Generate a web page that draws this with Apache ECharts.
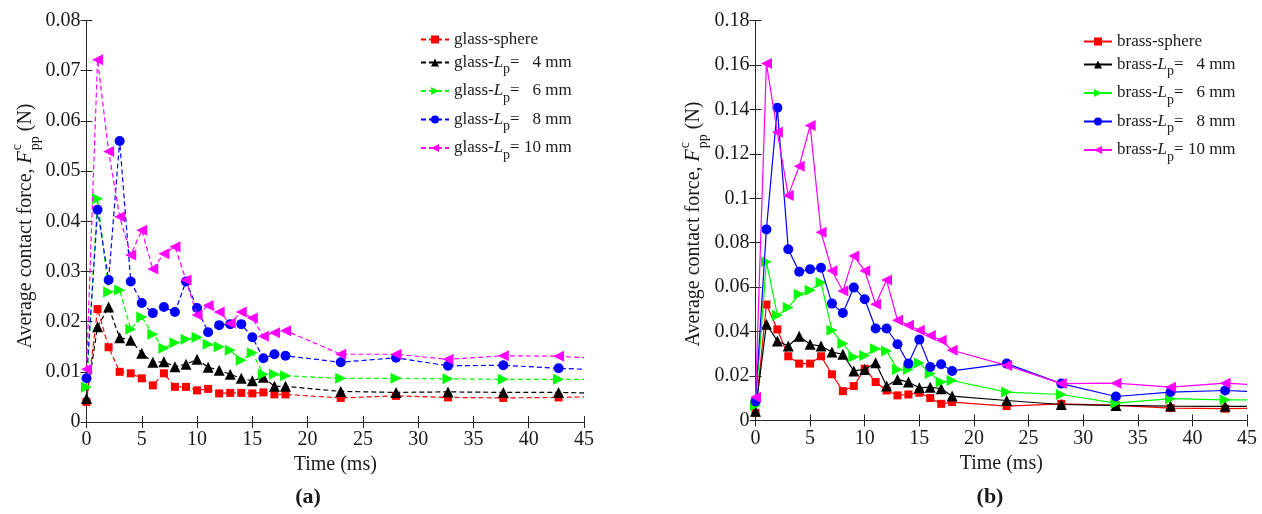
<!DOCTYPE html>
<html>
<head>
<meta charset="utf-8">
<script src="https://cdn.jsdelivr.net/npm/echarts@6/dist/echarts.min.js"></script>
<style>
html,body{margin:0;padding:0;background:#fff;}
#chart{width:1262px;height:514px;}
</style>
</head>
<body>
<div id="chart"></div>
<script>
// ---------- data ----------
const timeA = [0,1,2,3,4,5,6,7,8,9,10,11,12,13,14,15,16,17,18,23,28,32.7,37.7,42.7,45];
const timeB = [0,1,2,3,4,5,6,7,8,9,10,11,12,13,14,15,16,17,18,23,28,33,38,43,45];

const namesA = ['glass-sphere','glass-Lp = 4 mm','glass-Lp = 6 mm','glass-Lp = 8 mm','glass-Lp = 10 mm'];
const namesB = ['brass-sphere','brass-Lp = 4 mm','brass-Lp = 6 mm','brass-Lp = 8 mm','brass-Lp = 10 mm'];

const glassSphere = [0.0040,0.0225,0.0149,0.0100,0.0097,0.0087,0.0073,0.0097,0.0070,0.0070,0.0063,0.0066,0.0057,0.0058,0.0058,0.0057,0.0059,0.0055,0.0055,0.0048,0.0052,0.0049,0.0048,0.0049,0.0050];
const glassLp4   = [0.0047,0.0190,0.0229,0.0168,0.0163,0.0137,0.0119,0.0120,0.0110,0.0115,0.0125,0.0109,0.0103,0.0095,0.0087,0.0082,0.0089,0.0071,0.0071,0.0061,0.0059,0.0060,0.0059,0.0059,0.0058];
const glassLp6   = [0.0069,0.0445,0.0259,0.0263,0.0185,0.0209,0.0175,0.0147,0.0158,0.0165,0.0169,0.0155,0.0150,0.0143,0.0123,0.0138,0.0095,0.0095,0.0092,0.0087,0.0087,0.0086,0.0085,0.0085,0.0085];
const glassLp8   = [0.0087,0.0423,0.0283,0.0560,0.0280,0.0237,0.0217,0.0229,0.0219,0.0280,0.0227,0.0179,0.0193,0.0195,0.0195,0.0169,0.0127,0.0135,0.0132,0.0119,0.0128,0.0112,0.0113,0.0107,0.0105];
const glassLp10  = [0.0105,0.0722,0.0539,0.0409,0.0333,0.0382,0.0305,0.0335,0.0349,0.0283,0.0213,0.0232,0.0219,0.0197,0.0219,0.0207,0.0171,0.0178,0.0182,0.0135,0.0135,0.0125,0.0132,0.0131,0.0128];

const brassSphere = [0.0035,0.0522,0.0410,0.0289,0.0256,0.0256,0.0289,0.0208,0.0132,0.0155,0.0233,0.0173,0.0135,0.0113,0.0117,0.0125,0.0101,0.0075,0.0083,0.0065,0.0075,0.0068,0.0056,0.0053,0.0055];
const brassLp4   = [0.0042,0.0433,0.0358,0.0335,0.0379,0.0343,0.0335,0.0308,0.0298,0.0223,0.0230,0.0260,0.0155,0.0185,0.0173,0.0147,0.0150,0.0143,0.0110,0.0090,0.0072,0.0068,0.0065,0.0064,0.0064];
const brassLp6   = [0.0068,0.0714,0.0474,0.0508,0.0568,0.0586,0.0621,0.0406,0.0346,0.0286,0.0293,0.0323,0.0313,0.0229,0.0229,0.0259,0.0211,0.0173,0.0180,0.0128,0.0117,0.0078,0.0098,0.0093,0.0093];
const brassLp8   = [0.0086,0.0860,0.1407,0.0771,0.0669,0.0681,0.0687,0.0526,0.0484,0.0598,0.0546,0.0414,0.0414,0.0343,0.0256,0.0364,0.0241,0.0253,0.0223,0.0256,0.0166,0.0108,0.0128,0.0135,0.0131];
const brassLp10  = [0.0105,0.1606,0.1297,0.1013,0.1144,0.1327,0.0847,0.0674,0.0583,0.0740,0.0674,0.0523,0.0632,0.0451,0.0429,0.0406,0.0383,0.0361,0.0316,0.0248,0.0166,0.0168,0.0150,0.0168,0.0163];

const xTicks = {min:0, max:45, interval:5};
const yTicksA = {min:0, max:0.08, interval:0.01};
const yTicksB = {min:0, max:0.18, interval:0.02};

// ---------- style ----------
const FONT = "'Liberation Serif', 'Times New Roman', serif";
const TXT = '#1a1a1a';
const AX = '#262626';
const colors = ['#ff0000','#000000','#00ff00','#0000ff','#ff00ff'];
const symbols = [
  {symbol:'rect', size:8, rot:0},
  {symbol:'triangle', size:11, rot:0},
  {symbol:'triangle', size:11, rot:-90},
  {symbol:'circle', size:10, rot:0},
  {symbol:'triangle', size:11, rot:90}
];

function mkData(xs, ys){
  return xs.map((x,i)=> i === xs.length-1 ? {value:[x, ys[i]], symbol:'none'} : [x, ys[i]]);
}

function mkSeries(names, xs, ysList, xi, yi, dashed){
  return ysList.map((ys, k)=>({
    type:'line',
    name:names[k],
    xAxisIndex:xi, yAxisIndex:yi,
    data:mkData(xs, ys),
    symbol:symbols[k].symbol,
    symbolSize:symbols[k].size,
    symbolRotate:symbols[k].rot,
    showAllSymbol:true,
    clip:true,
    color:colors[k],
    itemStyle:{color:colors[k]},
    lineStyle:{color:colors[k], width:1.2, type: dashed ? [5,3] : 'solid'},
    emphasis:{disabled:true},
    z: 2 + k
  }));
}

function legendLabel(name){
  const m = name.match(/^(\w+)-Lp = (\d+) mm$/);
  if(!m) return name;
  const num = m[2].length === 1 ? '   ' + m[2] : ' ' + m[2];
  return m[1] + '-{i|L}{s|p}=' + num + ' mm';
}

const axisLineStyle = {show:true, lineStyle:{color:AX, width:1}};
const tickStyle = {show:true, inside:true, length:6, lineStyle:{color:AX, width:1}};
const labelStyle = {color:TXT, fontFamily:FONT, fontSize:20};

function xPair(gi){
  return [
    Object.assign({gridIndex:gi, type:'value', position:'bottom', axisLine:axisLineStyle, axisTick:tickStyle,
      axisLabel:Object.assign({margin:8}, labelStyle), splitLine:{show:false},
      name:'Time (ms)', nameLocation:'middle', nameGap:30,
      nameTextStyle:{color:TXT, fontFamily:FONT, fontSize:20}}, xTicks),
    Object.assign({gridIndex:gi, type:'value', position:'top', axisLine:axisLineStyle, axisTick:tickStyle,
      axisLabel:{show:false}, splitLine:{show:false}}, xTicks)
  ];
}
function yPair(gi, ticks){
  return [
    Object.assign({gridIndex:gi, type:'value', position:'left', axisLine:axisLineStyle, axisTick:tickStyle,
      axisLabel:Object.assign({margin:6}, labelStyle), splitLine:{show:false}}, ticks),
    Object.assign({gridIndex:gi, type:'value', position:'right', axisLine:axisLineStyle, axisTick:tickStyle,
      axisLabel:{show:false}, splitLine:{show:false}}, ticks)
  ];
}

function legendCfg(names, left, top){
  return {
    data:names, orient:'vertical', left:left, top:top, padding:0,
    itemWidth:28, itemHeight:10, itemGap:6,
    selectedMode:false,
    formatter:legendLabel,
    textStyle:{color:TXT, fontFamily:FONT, fontSize:17,
      rich:{
        i:{fontStyle:'italic', fontFamily:FONT, fontSize:17, color:TXT},
        s:{fontFamily:FONT, fontSize:14, color:TXT, padding:[14,0,0,0]}
      }}
  };
}

// y-axis title as rotated group with super/subscript
const mctx = document.createElement('canvas').getContext('2d');
function tw(text, font){ mctx.font = font; return mctx.measureText(text).width; }
function yTitle(cx, cy){
  const fMain = "20px 'Liberation Serif'";
  const fIt = "italic 20px 'Liberation Serif'";
  const fSmall = "14px 'Liberation Serif'";
  const t1 = 'Average contact force, ';
  const w1 = tw(t1, fMain), wF = tw('F', fIt), wc = tw('c', fSmall), wpp = tw('pp', fSmall), wN = tw(' (N)', fMain);
  const total = w1 + wF + 1 + Math.max(wc, wpp) + wN;
  let x = -total/2;
  const kids = [];
  const st = (text, font, style)=>Object.assign({text, font, fill:TXT, textAlign:'left', textVerticalAlign:'middle'}, style||{});
  kids.push({type:'text', x:x, y:0, style:st(t1, fMain)}); x += w1;
  kids.push({type:'text', x:x, y:0, style:st('F', fIt)}); x += wF + 1;
  kids.push({type:'text', x:x, y:-9, style:st('c', fSmall)});
  kids.push({type:'text', x:x, y:9, style:st('pp', fSmall)});
  x += Math.max(wc, wpp);
  kids.push({type:'text', x:x, y:0, style:st(' (N)', fMain)});
  return {type:'group', x:cx, y:cy, rotation:Math.PI/2, children:kids, silent:true};
}

const chart = echarts.init(document.getElementById('chart'), null, {renderer:'canvas'});
chart.setOption({
  animation:false,
  backgroundColor:'#ffffff',
  grid:[
    {left:86.5, top:20.5, width:497.5, height:401.5, containLabel:false},
    {left:755.5, top:20.5, width:491.5, height:400, containLabel:false}
  ],
  xAxis:[...xPair(0), ...xPair(1)],
  yAxis:[...yPair(0, yTicksA), ...yPair(1, yTicksB)],
  legend:[legendCfg(namesA, 420, 31), legendCfg(namesB, 1083, 33)],
  series:[
    ...mkSeries(namesA, timeA, [glassSphere, glassLp4, glassLp6, glassLp8, glassLp10], 0, 0, true),
    ...mkSeries(namesB, timeB, [brassSphere, brassLp4, brassLp6, brassLp8, brassLp10], 2, 2, false)
  ],
  graphic:[
    yTitle(26, 226),
    yTitle(694, 224),
    {type:'text', x:308, y:497, silent:true, style:{text:'(a)', font:"bold 22px 'Liberation Serif'", fill:TXT, textAlign:'center', textVerticalAlign:'middle'}},
    {type:'text', x:990, y:497, silent:true, style:{text:'(b)', font:"bold 22px 'Liberation Serif'", fill:TXT, textAlign:'center', textVerticalAlign:'middle'}}
  ]
});
</script>
</body>
</html>
